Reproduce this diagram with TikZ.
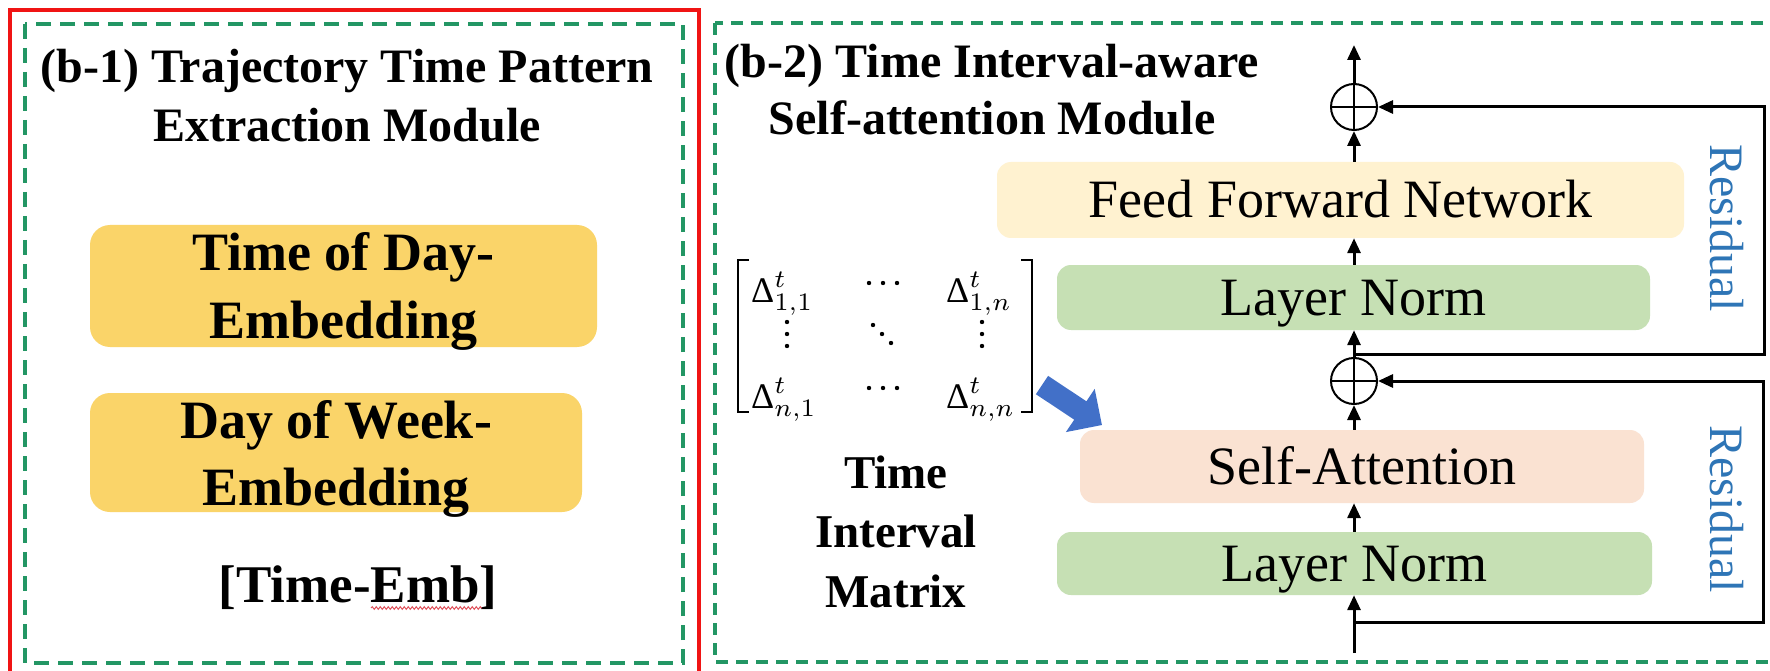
\documentclass[tikz,border=0pt]{standalone}
\usepackage{fontspec}
\setmainfont{Liberation Serif}
\usepackage{graphicx}
\usetikzlibrary{arrows.meta,decorations.pathmorphing,calc}

\definecolor{frameRed}{RGB}{240,20,20}
\definecolor{dashGreen}{RGB}{35,150,100}
\definecolor{embGold}{RGB}{250,212,105}
\definecolor{ffnYellow}{RGB}{255,242,208}
\definecolor{normGreen}{RGB}{198,224,180}
\definecolor{attnPeach}{RGB}{250,226,210}
\definecolor{cueBlue}{RGB}{66,112,200}
\definecolor{resBlue}{RGB}{46,117,182}
\definecolor{spellRed}{RGB}{225,85,95}

% one interval entry: Delta with time superscript and index pair
\newcommand{\dI}[2]{\scalebox{3.6}{$\hbox{Δ}^{t}_{#1,#2}$}}

\begin{document}
\begin{tikzpicture}[x=1pt,y=-1pt,
  panelL/.style={draw=dashGreen, line width=3.5pt, dash pattern=on 15pt off 9pt},
  panelR/.style={draw=dashGreen, line width=3.5pt, dash pattern=on 12pt off 8pt},
  ttl/.style={inner sep=0pt, font=\bfseries\fontsize{48}{56}\selectfont},
  embbox/.style={fill=embGold, rounded corners=20pt, inner sep=0pt},
  embtxt/.style={inner sep=0pt, font=\bfseries\fontsize{54}{60}\selectfont},
  block/.style={rounded corners=14pt, inner sep=0pt, text height=36pt, text depth=0pt,
    font=\fontsize{54}{60}\selectfont},
  mtx/.style={inner sep=0pt},
  lbl/.style={inner sep=0pt, font=\bfseries\fontsize{47}{54}\selectfont},
  addop/.style={circle, draw, line width=2pt, minimum size=46pt, inner sep=0pt},
  flow/.style={line width=3pt, -{Triangle[length=15pt,width=13pt]}},
  reslbl/.style={rotate=-90, inner sep=0pt, text=resBlue, font=\fontsize{48}{52}\selectfont}
]
\useasboundingbox (0,0) rectangle (1770,671);
\clip (0,0) rectangle (1770,671);
\fill[white] (0,0) rectangle (1770,671);

% ---------- frames ----------
\draw[frameRed, line width=3.5pt] (10,10) rectangle (699,700);
\draw[panelL] (25,24) rectangle (683,663);
\draw[panelR] (715,23) rectangle (1800,662);

% ---------- (b-1) time pattern extraction ----------
\node[ttl, anchor=base] (t1a) at (347,83) {(b-1) Trajectory Time Pattern};
\node[ttl, anchor=base] (t1b) at (347,142) {Extraction Module};

\node[embbox, minimum width=507pt, minimum height=122pt] (tod) at (343.5,286) {};
\node[embtxt, anchor=base] (todA) at (343.5,270) {Time of Day-};
\node[embtxt, anchor=base] (todB) at (343.5,338) {Embedding};

\node[embbox, minimum width=492pt, minimum height=119pt] (dow) at (336,452.5) {};
\node[embtxt, anchor=base] (dowA) at (336,438) {Day of Week-};
\node[embtxt, anchor=base] (dowB) at (336,505) {Embedding};

\node[embtxt, font=\bfseries\fontsize{53}{60}\selectfont, anchor=base] (temb) at (358,602) {[Time-Emb]};
\draw[spellRed, line width=1pt, decorate,
      decoration={snake, amplitude=1.3pt, segment length=4pt}]
  ($(temb.base)+(13,6)$) -- ($(temb.base)+(124,6)$);

% ---------- (b-2) time interval-aware self-attention ----------
\node[ttl, anchor=base] (t2a) at (992,78) {(b-2) Time Interval-aware};
\node[ttl, anchor=base] (t2b) at (992,135) {Self-attention Module};

% interval matrix: corner entries
\node[mtx, anchor=base west] (m11) at (751,302) {\dI{1}{1}};
\node[mtx, anchor=base west] (m13) at (946,302) {\dI{1}{n}};
\node[mtx, anchor=base west] (m31) at (751,408) {\dI{n}{1}};
\node[mtx, anchor=base west] (m33) at (946,408) {\dI{n}{n}};
% ellipsis dots
\foreach \x in {869,883,897} {
  \fill (\x,283) circle (2.2);
  \fill (\x,388) circle (2.2);
}
\foreach \y in {322,334,346} {
  \fill (787,\y) circle (2.2);
  \fill (982,\y) circle (2.2);
}
\fill (873,325) circle (2.2) (882,334) circle (2.2) (891,343) circle (2.2);
% brackets
\draw[line width=2.5pt] (749,260) -| (738,412) -- (749,412);
\draw[line width=2.5pt] (1021,260) -| (1032,412) -- (1021,412);

\node[lbl, anchor=base] (lt1) at (896,488) {Time};
\node[lbl, anchor=base] (lt2) at (896,547) {Interval};
\node[lbl, anchor=base] (lt3) at (896,607) {Matrix};

% block arrow from the matrix towards the attention block
\fill[cueBlue] (1048.1,375.9) -- (1086.4,401.3) -- (1094.7,388.9) -- (1101.9,425.0)
  -- (1065.9,432.1) -- (1074.2,419.7) -- (1035.9,394.2) -- cycle;

% encoder blocks
\node[block, fill=ffnYellow, minimum width=687pt, minimum height=76pt] (ffn) at (1340.5,200) {Feed Forward Network};
\node[block, fill=normGreen, minimum width=593pt, minimum height=65pt] (ln2) at (1353.5,297.5) {Layer Norm};
\node[block, fill=attnPeach, minimum width=564pt, minimum height=73pt] (sa) at (1362,466.5) {Self-Attention};
\node[block, fill=normGreen, minimum width=595pt, minimum height=63pt] (ln1) at (1354.5,563.5) {Layer Norm};

% adders
\node[addop] (add1) at (1354,381) {};
\node[addop] (add2) at (1354,107) {};
\foreach \a in {add1,add2}{
  \draw[line width=1.5pt] ([yshift=-1pt]\a.north) -- ([yshift=1pt]\a.south)
                          ([xshift=1pt]\a.west) -- ([xshift=-1pt]\a.east);
}

% main data path
\coordinate (in)  at (1354,653);
\coordinate (out) at (1354,45);
\draw[flow] (in) -- (in |- ln1.south);
\draw[flow] (in |- ln1.north) -- (in |- sa.south);
\draw[flow] (in |- sa.north) -- (add1.south);
\draw[flow] (add1.north) -- (in |- ln2.south);
\draw[flow] (in |- ln2.north) -- (in |- ffn.south);
\draw[flow] (in |- ffn.north) -- (add2.south);
\draw[flow] (add2.north) -- (out);

% residual connections
\coordinate (b1) at (1354,622);
\coordinate (c1) at (1763,622);
\coordinate (b2) at (1354,354);
\coordinate (c2) at (1764,354);
\draw[flow] (b1) -- (c1) -- (c1 |- add1) -- (add1.east);
\draw[flow] (b2) -- (c2) -- (c2 |- add2) -- (add2.east);

\node[reslbl] (res2) at (1727,228) {Residual};
\node[reslbl] (res1) at (1727,509) {Residual};
\end{tikzpicture}
\end{document}
